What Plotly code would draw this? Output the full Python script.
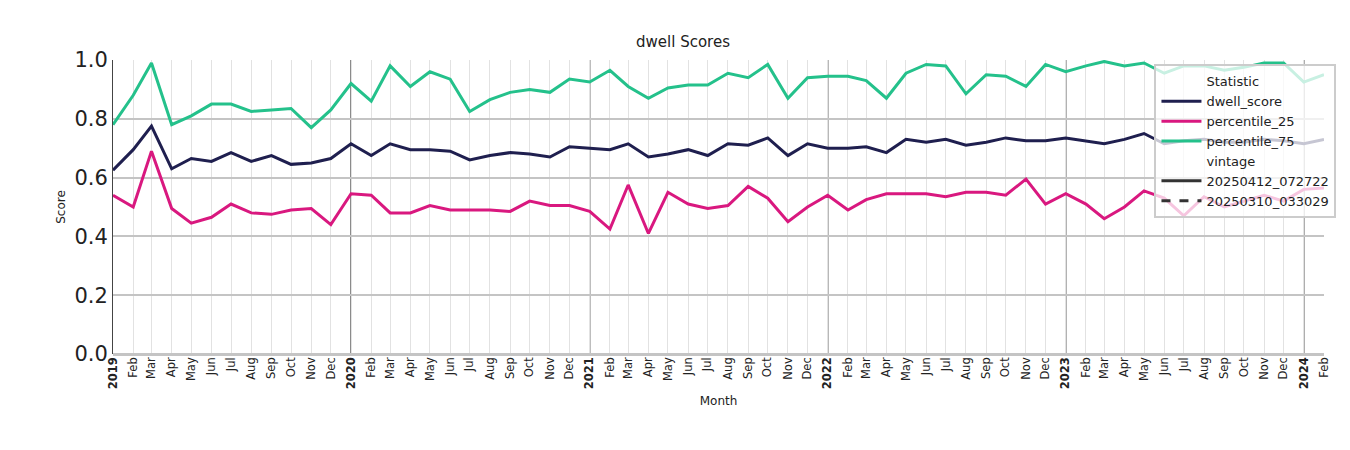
import plotly.graph_objects as go
import pandas as pd

months = [d.strftime("%Y-%m-%d") for d in pd.date_range("2019-01-01", "2024-02-01", freq="MS")]

p75 = [.78,.88,.99,.78,.81,.85,.85,.825,.83,.835,.77,.83,
       .92,.86,.98,.91,.96,.935,.825,.865,.89,.90,.89,.935,
       .925,.965,.91,.87,.905,.915,.915,.955,.94,.985,.87,.94,
       .945,.945,.93,.87,.955,.985,.98,.885,.95,.945,.91,.985,
       .96,.98,.995,.98,.99,.955,.98,.98,.965,.975,.99,.99,
       .925,.95]
dwell = [.625,.695,.775,.63,.665,.655,.685,.655,.675,.645,.65,.665,
         .715,.675,.715,.695,.695,.69,.66,.675,.685,.68,.67,.705,
         .70,.695,.715,.67,.68,.695,.675,.715,.71,.735,.675,.715,
         .70,.70,.705,.685,.73,.72,.73,.71,.72,.735,.725,.725,
         .735,.725,.715,.73,.75,.715,.725,.73,.72,.72,.73,.725,
         .715,.73]
p25 = [.54,.50,.69,.495,.445,.465,.51,.48,.475,.49,.495,.44,
       .545,.54,.48,.48,.505,.49,.49,.49,.485,.52,.505,.505,
       .485,.425,.575,.41,.55,.51,.495,.505,.57,.53,.45,.50,
       .54,.49,.525,.545,.545,.545,.535,.55,.55,.54,.595,.51,
       .545,.51,.46,.50,.555,.53,.47,.535,.50,.52,.54,.52,
       .56,.565]

dts = pd.to_datetime(months)
tick_text = [f"<b>{d.year}</b>" if d.month == 1 else d.strftime("%b") for d in dts]

fig = go.Figure()
hdr = dict(x=[months[0]], y=[None], mode="lines", line=dict(width=0, color="rgba(0,0,0,0)"))
fig.add_trace(go.Scatter(name="Statistic", **hdr))
for name, vals, col in [("dwell_score", dwell, "#1f1f4f"), ("percentile_25", p25, "#d9187f"),
                        ("percentile_75", p75, "#24c18b")]:
    fig.add_trace(go.Scatter(x=months, y=vals, mode="lines", name=name,
                             line=dict(color=col, width=3)))
fig.add_trace(go.Scatter(name="vintage", **hdr))
fig.add_trace(go.Scatter(x=[months[0]], y=[None], mode="lines", name="20250412_072722",
                         line=dict(color="#333", width=3)))
fig.add_trace(go.Scatter(x=[months[0]], y=[None], mode="lines", name="20250310_033029",
                         line=dict(color="#333", width=3, dash="dash")))

for d, s in zip(dts, months):
    if d.month == 1 and d.year > 2019:
        fig.add_shape(type="line", xref="x", yref="paper", x0=s, x1=s, y0=0, y1=1,
                      line=dict(color="#444", width=1.3), layer="below")

fig.update_layout(
    width=1350, height=450, plot_bgcolor="white", paper_bgcolor="white",
    margin=dict(l=105, r=34, t=52, b=104),
    font=dict(family="DejaVu Sans", color="#222"),
    title=dict(text="dwell Scores", x=0.5, xanchor="center", y=0.925, yanchor="middle",
               font=dict(size=15)),
    showlegend=True,
    legend=dict(x=0.86, y=0.985, xanchor="left", yanchor="top",
                bgcolor="rgba(255,255,255,0.75)", bordercolor="#ccc", borderwidth=2,
                font=dict(size=13), tracegroupgap=0, itemwidth=40),
)
fig.update_xaxes(type="date", range=[months[0], months[-1]], tickmode="array", tickvals=months,
                 ticktext=tick_text, tickangle=-90, tickfont=dict(size=11.5),
                 showgrid=True, gridcolor="#e2e2e2", gridwidth=1,
                 showline=False, zeroline=False, automargin=False,
                 title=dict(text="Month", font=dict(size=12), standoff=8))
fig.update_yaxes(range=[0, 1.0], tickvals=[0, .2, .4, .6, .8, 1.0],
                 ticktext=["0.0", "0.2", "0.4", "0.6", "0.8", "1.0"],
                 tickfont=dict(size=21), gridcolor="#c4c4c4", gridwidth=2,
                 zeroline=True, zerolinecolor="#c4c4c4", zerolinewidth=3,
                 showline=True, linecolor="#444", linewidth=1, mirror=False, automargin=False,
                 title=dict(text="Score", font=dict(size=12), standoff=6))
fig.write_html("out.html")
